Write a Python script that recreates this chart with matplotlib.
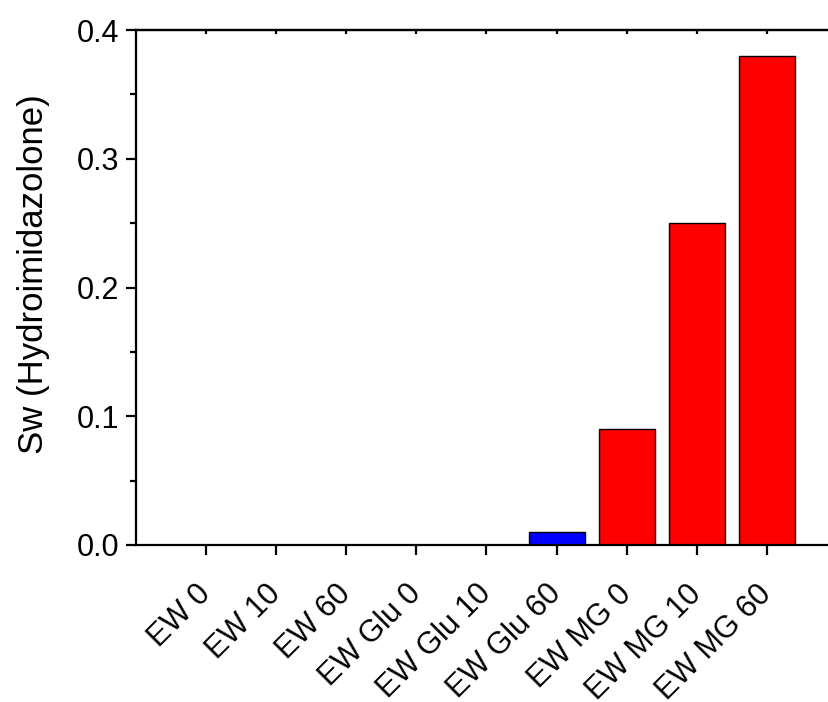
import matplotlib
matplotlib.use("Agg")
import matplotlib.pyplot as plt

categories = ["EW 0", "EW 10", "EW 60", "EW Glu 0", "EW Glu 10", "EW Glu 60",
              "EW MG 0", "EW MG 10", "EW MG 60"]
values = [0.0, 0.0, 0.0, 0.0, 0.0, 0.01, 0.09, 0.25, 0.38]
colors = ["#ff0000", "#ff0000", "#ff0000", "#0000ff", "#0000ff", "#0000ff",
          "#ff0000", "#ff0000", "#ff0000"]
ylabel = "Sw (Hydroimidazolone)"
yticks = [0.0, 0.1, 0.2, 0.3, 0.4]
yminor = [0.05, 0.15, 0.25, 0.35]

plt.rcParams['font.family'] = ['Liberation Sans', 'DejaVu Sans']

fig = plt.figure(figsize=(8.29, 7.02), dpi=100)
ax = fig.add_axes([136/829, 1 - 545/702, (837-136)/829, 515/702])

x = list(range(len(categories)))
ax.bar(x, values, width=0.8, color=colors, edgecolor="black", linewidth=1.0)

ax.set_xlim(-1, 9)
ax.set_ylim(0, 0.4)
ax.set_yticks(yticks)
ax.set_yticklabels([f"{v:.1f}" for v in yticks])
ax.set_yticks(yminor, minor=True)
ax.set_xticks(x)
ax.set_xticklabels(categories, rotation=45, ha="right", va="center",
                   rotation_mode="anchor")

for s in ["left", "bottom", "top"]:
    ax.spines[s].set_linewidth(1.6)
ax.spines["right"].set_visible(False)

ax.tick_params(axis="both", which="major", width=1.6, length=7,
               direction="out")
ax.tick_params(axis="y", which="major", labelsize=22, pad=5)
ax.tick_params(axis="y", which="minor", width=1.6, length=4, direction="out")
ax.tick_params(axis="x", which="major", labelsize=22, pad=25)

top = ax.secondary_xaxis("top")
top.set_xticks(x)
top.set_xticklabels([])
top.tick_params(direction="in", length=3, width=1.6)
top.spines["top"].set_linewidth(1.6)

ax.set_ylabel(ylabel, fontsize=25)
ax.yaxis.set_label_coords(-0.123, 0.526)

fig.savefig("out.png", dpi=100)
